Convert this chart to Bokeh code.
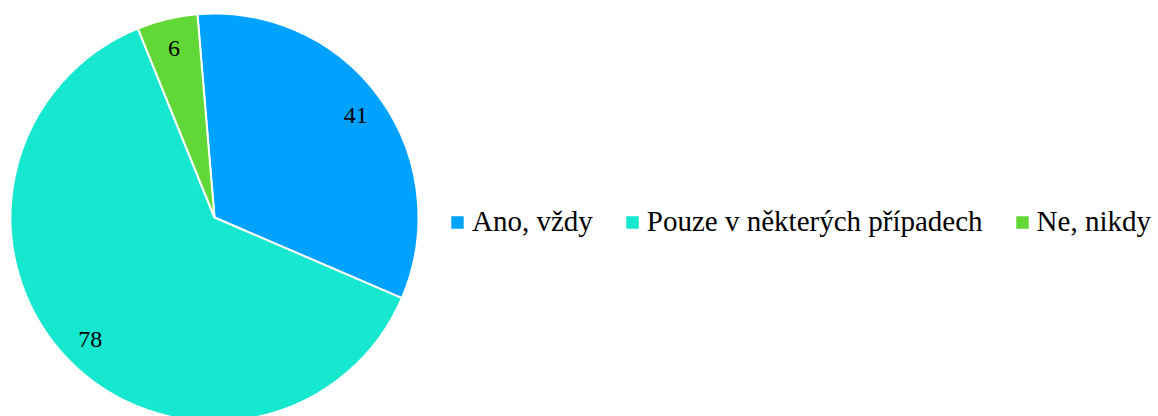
import numpy as np
from bokeh.plotting import figure
from bokeh.models import ColumnDataSource, Legend, LegendItem, Range1d
from bokeh.embed import file_html
from bokeh.resources import INLINE
from bokeh.core.properties import value

categories = ["Ano, vždy", "Pouze v některých případech", "Ne, nikdy"]
counts = [41, 78, 6]
colors = ["#00A2FF", "#16E7CF", "#61D836"]

W, H = 1158, 416
cx, cy, R = 214, 199, 204
start_deg = 94.8
label_r = 174
FONT = "'Liberation Serif', 'Times New Roman', serif"

vals = np.array(counts, dtype=float)
frac = vals / vals.sum()
cum = np.concatenate([[0], np.cumsum(frac)[:-1]])
start = np.radians(start_deg) - 2 * np.pi * cum
end = start - 2 * np.pi * frac
mid = (start + end) / 2

src = ColumnDataSource(dict(
    cat=categories, count=counts, color=colors,
    start=start, end=end,
    lx=cx + label_r * np.cos(mid), ly=cy + label_r * np.sin(mid),
    txt=[str(c) for c in counts],
))

p = figure(width=W, height=H, output_backend="svg", toolbar_location=None,
           x_range=Range1d(0, W), y_range=Range1d(0, H),
           x_axis_type=None, y_axis_type=None, min_border=0)
p.outline_line_color = None
p.grid.visible = False
p.background_fill_color = "white"

r = p.wedge(x=cx, y=cy, radius=R, start_angle="start", end_angle="end",
            direction="clock", fill_color="color", line_color="white",
            line_width=2, source=src)

p.text(x="lx", y="ly", text="txt", source=src, text_align="center",
       text_baseline="middle", text_font=value(FONT),
       text_font_size="24px", text_color="black")

items = [LegendItem(label=c, renderers=[r], index=i) for i, c in enumerate(categories)]
legend = Legend(items=items, orientation="horizontal", location=(448, 178),
                glyph_width=18, glyph_height=18, label_standoff=6, spacing=30,
                label_text_font=FONT, label_text_font_size="29px",
                label_text_color="black",
                border_line_color=None, background_fill_alpha=0,
                padding=0, margin=0)
p.add_layout(legend, "center")

open("out.html", "w").write(file_html(p, INLINE))
